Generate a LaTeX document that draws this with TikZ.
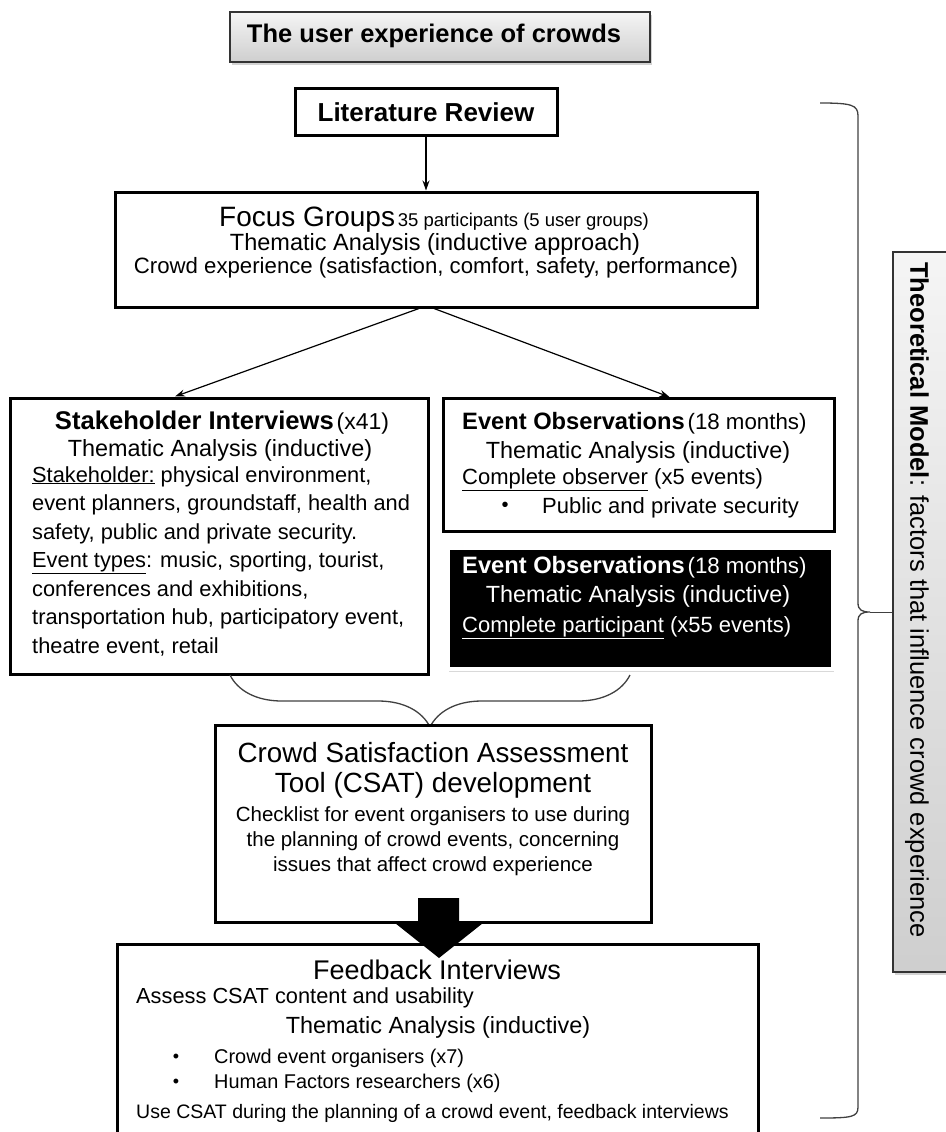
\documentclass[tikz,border=0pt]{standalone}
\usepackage{fontspec}
\setmainfont{Liberation Sans}
\usetikzlibrary{positioning,arrows.meta,shadows,decorations.pathreplacing}

\newcommand{\setfs}[1]{\fontsize{#1}{#1}\selectfont}

\tikzset{
  stepbox/.style={draw, line width=3pt, fill=white, inner sep=0pt},
  greybox/.style={draw=black!80, line width=1.2pt, top color=gray!8, bottom color=gray!38,
    drop shadow={shadow xshift=2pt, shadow yshift=-3pt, opacity=0.35}},
  darkbox/.style={draw=white, line width=4pt, fill=black,
    drop shadow={shadow xshift=1pt, shadow yshift=-3pt, opacity=0.3}},
  flow/.style={->, line width=1.2pt},
  bracel/.style={line width=1.3pt, black!75},
  txt/.style={inner sep=0pt}
}

\begin{document}
\begin{tikzpicture}[x=1pt,y=-1pt,>={Stealth[length=10pt,width=7pt]}]
\useasboundingbox (0,0) rectangle (945,1132);

%---------------------------------
% TITLE AND LITERATURE
%---------------------------------
\node[greybox, minimum width=420, minimum height=50] (title) at (440,37) {};
\node[txt, font=\bfseries\setfs{25.5}] (titleT) at (434,36) {The user experience of crowds};

\node[stepbox, minimum width=262, minimum height=47] (lit) at (426,112)
  {\bfseries\setfs{26}Literature Review};

%---------------------------------
% FOCUS GROUPS
%---------------------------------
\node[stepbox, minimum width=642, minimum height=115] (focus) at (436,249.5) {};
\node[txt] (focusA) at (434,220)
  {{\setfs{28}Focus Groups} {\setfs{18.5}35 participants (5 user groups)}};
\node[txt, font=\setfs{23.5}] (focusB) at (435,244) {Thematic Analysis (inductive approach)};
\node[txt, font=\setfs{22.2}] (focusC) at (436,268)
  {Crowd experience (satisfaction, comfort, safety, performance)};

\draw[flow] (lit.south) -- (lit.south |- focus.north);

%---------------------------------
% STAKEHOLDER INTERVIEWS
%---------------------------------
\node[stepbox, minimum width=418, minimum height=276] (stake) at (219,536) {};
\node[txt] (stakeA) at (222,423)
  {{\bfseries\setfs{25.6}Stakeholder Interviews} {\setfs{23}(x41)}};
\node[txt, font=\setfs{23.4}] (stakeB) at (220,450) {Thematic Analysis (inductive)};
\node[txt, anchor=north west, align=left, font=\fontsize{21.8}{28.5}\selectfont] (stakeC) at (32,466)
  {\underline{Stakeholder:} physical environment,\\
   event planners, groundstaff, health and\\
   safety, public and private security.\\
   \underline{Event types}: music, sporting, tourist,\\
   conferences and exhibitions,\\
   transportation hub, participatory event,\\
   theatre event, retail};

%---------------------------------
% EVENT OBSERVATIONS
%---------------------------------
\node[stepbox, minimum width=391, minimum height=133] (obs) at (638.5,465) {};
\node[txt, anchor=west] (obsA) at (462,423)
  {{\bfseries\setfs{23.7}Event Observations} {\setfs{22.3}(18 months)}};
\node[txt, font=\setfs{23.4}] (obsB) at (638,452) {Thematic Analysis (inductive)};
\node[txt, anchor=west, font=\setfs{22}] (obsC) at (462,480)
  {\underline{Complete observer} (x5 events)};
\node[txt, font=\setfs{20}] (obsDot) at (505,507) {\textbullet};
\node[txt, anchor=west, font=\setfs{22}] (obsD) at (542,508) {Public and private security};

\node[darkbox, minimum width=385, minimum height=121] (part) at (640,608) {};
\node[txt, anchor=west, text=white] (partA) at (462,567)
  {{\bfseries\setfs{23.7}Event Observations} {\setfs{22.3}(18 months)}};
\node[txt, font=\setfs{23.4}, text=white] (partB) at (638,596) {Thematic Analysis (inductive)};
\node[txt, anchor=west, font=\setfs{22}, text=white] (partC) at (462,628)
  {\underline{Complete participant} (x55 events)};

\draw[flow] ([xshift=-17pt]focus.south) -- ([xshift=-44pt]stake.north);
\draw[flow] ([xshift=-2pt]focus.south) -- ([xshift=31pt]obs.north);

% llave que une las dos ramas
\draw[bracel, decorate, decoration={brace, mirror, amplitude=52pt, aspect=0.5}] (230,675) -- (630,675);

%---------------------------------
% CSAT
%---------------------------------
\node[stepbox, minimum width=436, minimum height=197] (csat) at (433,823.5) {};
\node[txt, font=\setfs{27.8}] (csatA) at (433,753) {Crowd Satisfaction Assessment};
\node[txt, font=\setfs{27.8}] (csatB) at (433,785) {Tool (CSAT) development};
\node[txt, align=center, font=\fontsize{20.5}{25}\selectfont] (csatC) at (433,841)
  {Checklist for event organisers to use during\\
   the planning of crowd events, concerning\\
   issues that affect crowd experience};

%---------------------------------
% FEEDBACK INTERVIEWS
%---------------------------------
\node[stepbox, minimum width=641, minimum height=210] (fb) at (437.5,1049) {};
\node[txt, font=\setfs{27}] (fbA) at (437,970) {Feedback Interviews};
\node[txt, anchor=west, font=\setfs{21.8}] (fbB) at (136,998) {Assess CSAT content and usability};
\node[txt, font=\setfs{23.4}] (fbC) at (438,1027) {Thematic Analysis (inductive)};
\node[txt, font=\setfs{18}] (fbDot1) at (176,1058) {\textbullet};
\node[txt, anchor=west, font=\setfs{19.9}] (fbD) at (214,1058) {Crowd event organisers (x7)};
\node[txt, font=\setfs{18}] (fbDot2) at (176,1083) {\textbullet};
\node[txt, anchor=west, font=\setfs{19.9}] (fbE) at (214,1083) {Human Factors researchers (x6)};
\node[txt, anchor=west, font=\setfs{19.5}] (fbF) at (136,1113)
  {Use CSAT during the planning of a crowd event, feedback interviews};

% flecha gruesa
\fill (418,898) -- (459,898) -- (459,923) -- (483,923) -- (439,958) -- (395,923) -- (418,923) -- cycle;

%---------------------------------
% THEORETICAL MODEL
%---------------------------------
\node[greybox, minimum width=57, minimum height=720] (model) at (921.5,612) {};
\node[txt, rotate=-90, font=\setfs{25.5}] (modelT) at (917,600)
  {\textbf{Theoretical Model}: factors that influence crowd experience};

\coordinate (tip) at (870,612);
\draw[bracel] (820,103) .. controls (852,103) and (858,105) .. (858,116) -- (858,603)
  .. controls (858,610) and (862,612) .. (tip)
  .. controls (862,612) and (858,614) .. (858,621) -- (858,1107)
  .. controls (858,1117) and (852,1118) .. (820,1118);
\draw[bracel, line width=1pt] (tip) -- (model.west |- tip);

\end{tikzpicture}
\end{document}
